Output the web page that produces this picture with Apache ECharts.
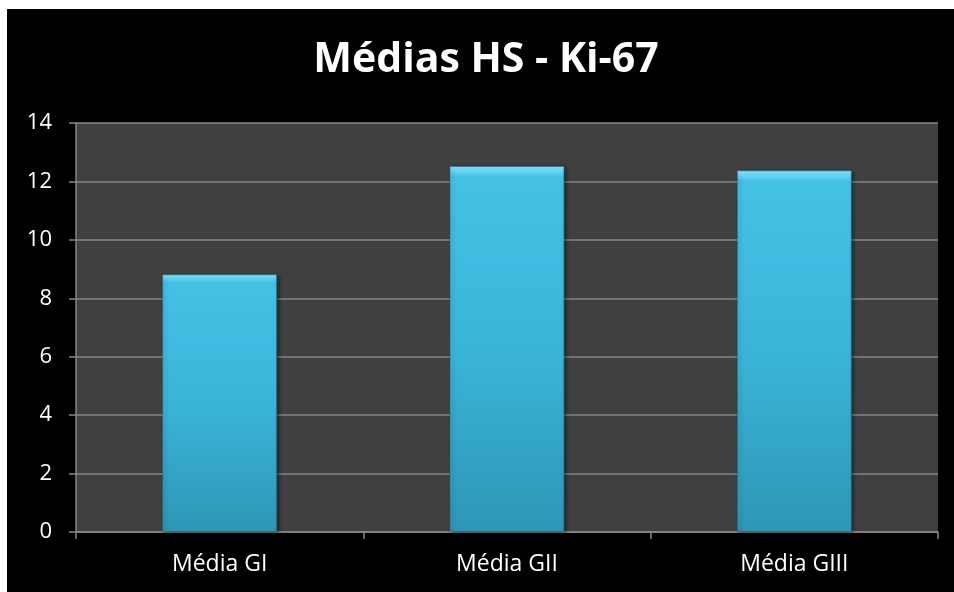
<!DOCTYPE html>
<html>
<head>
<meta charset="utf-8">
<style>
  html, body { margin: 0; padding: 0; background: #ffffff; }
  #chart { position: absolute; left: 7px; top: 9px; width: 947px; height: 583px; background: #000000; }
</style>
<script src="https://cdn.jsdelivr.net/npm/echarts@6/dist/echarts.min.js"></script>
</head>
<body>
<div id="chart"></div>
<script>
// Mean Ki-67 HS values per group
const categories = ['Média GI', 'Média GII', 'Média GIII'];
const meanValues = [8.82, 12.53, 12.38];
const yTicks = { min: 0, max: 14, interval: 2 };

const font = 'Open Sans';
const axisGray = '#868686';

const chart = echarts.init(document.getElementById('chart'));
chart.setOption({
  backgroundColor: '#000000',
  animation: false,
  title: {
    text: 'Médias HS - Ki-67',
    left: 474,
    top: 26,
    textAlign: 'center',
    textStyle: { color: '#ffffff', fontFamily: font, fontWeight: 'bold', fontSize: 41 }
  },
  grid: {
    left: 69, right: 16, top: 114, bottom: 60,
    show: true, backgroundColor: '#404040', borderWidth: 0
  },
  xAxis: {
    type: 'category',
    data: categories,
    axisLine: { lineStyle: { color: axisGray, width: 1.5 } },
    axisTick: { show: true, length: 7, lineStyle: { color: axisGray, width: 1.5 } },
    axisLabel: { color: '#ffffff', fontFamily: font, fontSize: 23, margin: 21 }
  },
  yAxis: {
    type: 'value',
    min: yTicks.min, max: yTicks.max, interval: yTicks.interval,
    axisLine: { show: true, lineStyle: { color: axisGray, width: 1.5 } },
    axisTick: { show: true, length: 7, lineStyle: { color: axisGray, width: 1.5 } },
    axisLabel: { color: '#ffffff', fontFamily: font, fontSize: 22, margin: 24 },
    splitLine: { lineStyle: { color: axisGray, width: 1.5 } }
  },
  series: [{
    type: 'bar',
    data: meanValues,
    barWidth: '40%',
    itemStyle: {
      color: new echarts.graphic.LinearGradient(0, 0, 0, 1, [
        { offset: 0, color: '#8cecff' },
        { offset: 0.012, color: '#6fdcf7' },
        { offset: 0.03, color: '#43c2e6' },
        { offset: 0.5, color: '#3ab5da' },
        { offset: 1, color: '#2e97b5' }
      ]),
      borderColor: 'rgba(30,110,140,0.6)',
      borderWidth: 1,
      shadowColor: 'rgba(0,0,0,0.45)',
      shadowBlur: 4,
      shadowOffsetX: 2,
      shadowOffsetY: 1
    }
  }]
});
</script>
</body>
</html>
